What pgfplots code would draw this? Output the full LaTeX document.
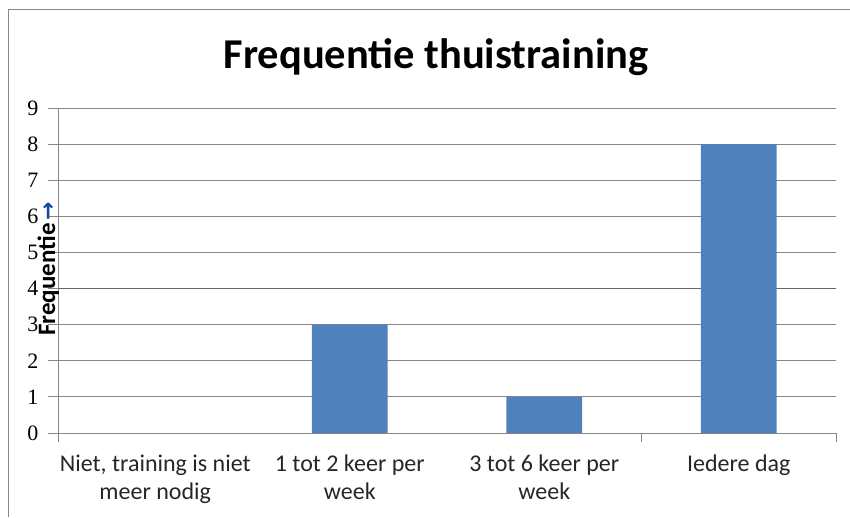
\documentclass[border=0pt]{standalone}
\usepackage{fontspec}
\setmainfont{Carlito}
\newfontfamily\tickfont{Liberation Serif}
\newfontfamily\symfont{DejaVu Sans}
\usepackage{pgfplots}
\pgfplotsset{compat=1.18}
\definecolor{barblue}{RGB}{79,129,189}
\definecolor{gridgray}{RGB}{134,134,134}
\definecolor{arrowblue}{RGB}{23,72,155}

\begin{document}
\begin{tikzpicture}
    \begin{axis}[
        set layers=standard,
        at={(58pt,84pt)}, anchor=south west,
        scale only axis,
        width=778pt, height=325pt,
        xmin=-0.5, xmax=3.5,
        ymin=0, ymax=9,
        ytick={0,1,...,9},
        xtick={0,1,2,3},
        xticklabels={{Niet, training is niet\\meer nodig},{1 tot 2 keer per\\week},{3 tot 6 keer per\\week},{Iedere dag}},
        x tick style={draw=none},
        extra x ticks={-0.5,2.5,3.5},
        extra x tick labels={},
        extra x tick style={x tick style={draw=gridgray, line width=0.8pt}, major tick length=9pt},
        axis x line*=bottom,
        axis y line*=left,
        axis line style={draw=gridgray, line width=0.8pt},
        y tick style={draw=gridgray, line width=0.8pt},
        tick align=outside,
        major tick length=10pt,
        ymajorgrids=true,
        grid style={draw=gridgray, line width=0.8pt},
        /pgf/number format/assume math mode=true,
        yticklabel style={font=\tickfont\fontsize{22}{22}\selectfont, xshift=-6pt},
        xticklabel style={font=\fontsize{24}{28}\selectfont, align=center, text=black!85, yshift=-8pt},
        clip=false,
    ]
    \addplot[ybar, bar width=0.39, fill=barblue, draw=none]
        coordinates {(0,0)(1,3)(2,1)(3,8)};
    \begin{pgfonlayer}{axis grid}
    \draw[draw=black!60, line width=1pt] (axis cs:-0.5,4) -- (axis cs:3.5,4);
    \end{pgfonlayer}
    \end{axis}
    \node[anchor=base, font=\bfseries\fontsize{42.5}{42.5}\selectfont] at (436pt,448pt) {Frequentie thuistraining};
    \node[rotate=90, anchor=base west, inner sep=0pt, font=\bfseries\fontsize{25}{25}\selectfont] at (55pt,181pt)
        {Frequentie\hspace{3pt}{\color{arrowblue}\symfont\bfseries\fontsize{22}{22}\selectfont →}};
    \draw[draw=gridgray, line width=0.8pt] (8pt,0pt) -- (8pt,508pt) -- (850pt,508pt);
    \pgfresetboundingbox
    \path (0pt,0pt) rectangle (850pt,517pt);
\end{tikzpicture}
\end{document}
